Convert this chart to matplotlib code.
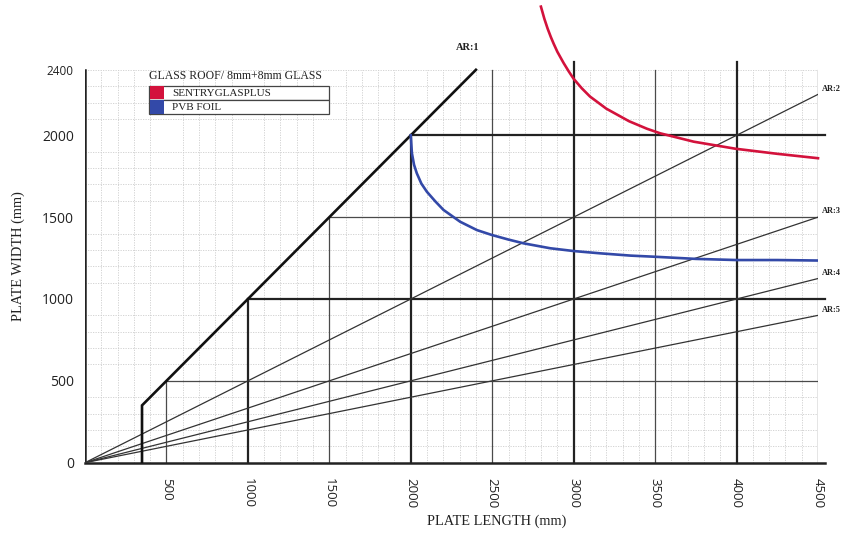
import matplotlib
matplotlib.use("Agg")
import matplotlib.pyplot as plt
import numpy as np
from matplotlib.patches import Rectangle

# ---- data -------------------------------------------------------------
sgp_length = [2799, 2820, 2840, 2860, 2877, 2900, 2938, 2970, 3000, 3050,
              3100, 3200, 3340, 3450, 3532, 3737, 3993, 4249, 4500]
sgp_width = [2786, 2712, 2652, 2600, 2560, 2510, 2442, 2390, 2345, 2287,
             2237, 2163, 2086, 2040, 2012, 1961, 1918, 1887, 1860]

pvb_length = [2000, 2003, 2007, 2020, 2037, 2065, 2099, 2150, 2201, 2303,
              2406, 2498, 2600, 2693, 2856, 3000, 3163, 3350, 3500, 3750,
              4000, 4250, 4500]
pvb_width = [2000, 1950, 1890, 1820, 1768, 1705, 1655, 1597, 1544, 1472,
             1421, 1391, 1363, 1340, 1310, 1293, 1279, 1265, 1258, 1245,
             1238, 1238, 1235]

aspect_ratios = [2, 3, 4, 5]
ar1_start = 350
x_max, y_max = 4500, 2400
x_ticks = [500, 1000, 1500, 2000, 2500, 3000, 3500, 4000, 4500]
y_ticks = [0, 500, 1000, 1500, 2000, 2400]

legend_title = "GLASS ROOF/ 8mm+8mm GLASS"
series_names = ["SENTRYGLASPLUS", "PVB FOIL"]
series_colors = ["#d3123c", "#3349a8"]

# ---- figure -----------------------------------------------------------
W, H = 844, 535
fig = plt.figure(figsize=(W / 100, H / 100), dpi=100)
fig.patch.set_facecolor("white")

x0_px, x1_px, y0_px = 85, 818, 462.7
ax = fig.add_axes([x0_px / W, (H - y0_px) / H, (x1_px - x0_px) / W, y0_px / H])
ax.set_xlim(0, x_max)
ax.set_ylim(0, y0_px / 0.1637)
ax.set_facecolor("none")

SERIF = "Liberation Serif"
SANS = "Open Sans"
DARK = "#222222"
MID = "#4a4a4a"

# fine 100 mm grid
fine = np.arange(100, x_max, 100)
ax.vlines([v for v in fine if v % 500], 0, y_max, colors="#cdcdcd",
          linewidth=0.6, linestyles=(0, (1.5, 1.5)), zorder=1)
fine_y = np.arange(100, y_max + 1, 100)
ax.hlines([v for v in fine_y if v % 500], 0, x_max, colors="#cdcdcd",
          linewidth=0.6, linestyles=(0, (1.5, 1.5)), zorder=1)

# 500 mm lines (start at the 1:1 line)
for v in [500, 1500, 2500, 3500]:
    ax.plot([v, v], [0, min(v, y_max)], color=MID, lw=0.9, zorder=2)
for v in [500, 1500]:
    ax.plot([v, x_max], [v, v], color=MID, lw=0.9, zorder=2)

# 1000 mm lines
for v in [1000, 2000]:
    ax.plot([v, v], [0, v], color=DARK, lw=1.6, zorder=3)
    ax.plot([v, x_max + 45], [v, v], color=DARK, lw=1.6, zorder=3,
            clip_on=False)
for v in [3000, 4000]:
    ax.plot([v, v], [0, y_max + 45], color=DARK, lw=1.6, zorder=3,
            clip_on=False)

# frame
ax.plot([0, 0], [0, y_max], color=DARK, lw=1.8, zorder=4)
ax.plot([0, x_max + 45], [0, 0], color=DARK, lw=1.8, zorder=4, clip_on=False)
ax.plot([x_max, x_max], [0, y_max], color="#333333", lw=0.9, zorder=4)
for s in ax.spines.values():
    s.set_visible(False)

# aspect-ratio lines from the origin
for r in aspect_ratios:
    ax.plot([0, x_max], [0, x_max / r], color="#333333", lw=0.9, zorder=4)
    ax.text(x_max + 25, x_max / r + 35, f"AR:{r}", fontsize=6,
            family=SERIF, fontweight="bold", color="#222222",
            ha="left", va="center", clip_on=False)

# AR 1:1 limit
ax.plot([ar1_start, ar1_start, y_max], [0, ar1_start, y_max], color="#111111",
        lw=1.9, zorder=5, solid_joinstyle="miter")
ax.text(2350, 2535, "AR:1", fontsize=7.5, family=SERIF, fontweight="bold",
        color="#222222", ha="center", va="center")

# load curves
ax.plot(sgp_length, sgp_width, color=series_colors[0], lw=1.9, zorder=6,
        clip_on=False)
ax.plot(pvb_length, pvb_width, color=series_colors[1], lw=1.9, zorder=6)

# ticks
ax.set_xticks(x_ticks)
ax.set_xticklabels([str(v) for v in x_ticks], rotation=-90, family=SANS,
                   fontsize=9.5, color="#222222")
ax.set_yticks(y_ticks)
ax.set_yticklabels([str(v) for v in y_ticks], family=SANS, fontsize=10,
                   color="#222222")
ax.get_yticklabels()[-1].set_fontsize(8.5)
ax.tick_params(axis="x", which="major", length=0, pad=11)
ax.tick_params(axis="y", which="major", length=0, pad=8)
ax.set_yticks([1000, 2000], minor=True)
ax.tick_params(axis="y", which="minor", direction="inout", length=14,
               width=1.6, color=DARK)

ax.set_xlabel("PLATE LENGTH (mm)", family=SERIF, fontsize=10.4,
              color="#222222")
ax.xaxis.set_label_coords((497 - x0_px) / (x1_px - x0_px), -0.111)
ax.set_ylabel("PLATE WIDTH (mm)", family=SERIF, fontsize=10.4,
              color="#222222")
ax.yaxis.set_label_coords(-(x0_px - 25) / (x1_px - x0_px),
                          (y0_px - 256) / y0_px)


# legend panel, placed in figure pixel coordinates
def fx(px):
    return px / W


def fy(py):
    return 1 - py / H


fig.text(fx(149), fy(76), legend_title, family=SERIF, fontsize=8.5,
         color="#222222", ha="left", va="center")
row_top, row_h, box_l, box_r, sw_w = 85.7, 14.2, 149, 329, 14
for i, (name, col) in enumerate(zip(series_names, series_colors)):
    top = row_top + i * row_h
    fig.patches.append(Rectangle((fx(box_l), fy(top + row_h)),
                                 fx(box_r) - fx(box_l), row_h / H,
                                 transform=fig.transFigure, facecolor="white",
                                 edgecolor="#444444", lw=0.9, zorder=10))
    fig.patches.append(Rectangle((fx(box_l + 0.5), fy(top + row_h - 0.5)),
                                 sw_w / W, (row_h - 1) / H,
                                 transform=fig.transFigure, facecolor=col,
                                 edgecolor="none", zorder=11))
    fig.text(fx(172), fy(top + row_h / 2 + 0.5), name, family=SERIF,
             fontsize=8, color="#222222", ha="left", va="center", zorder=12)

fig.savefig("out.png", dpi=100)
